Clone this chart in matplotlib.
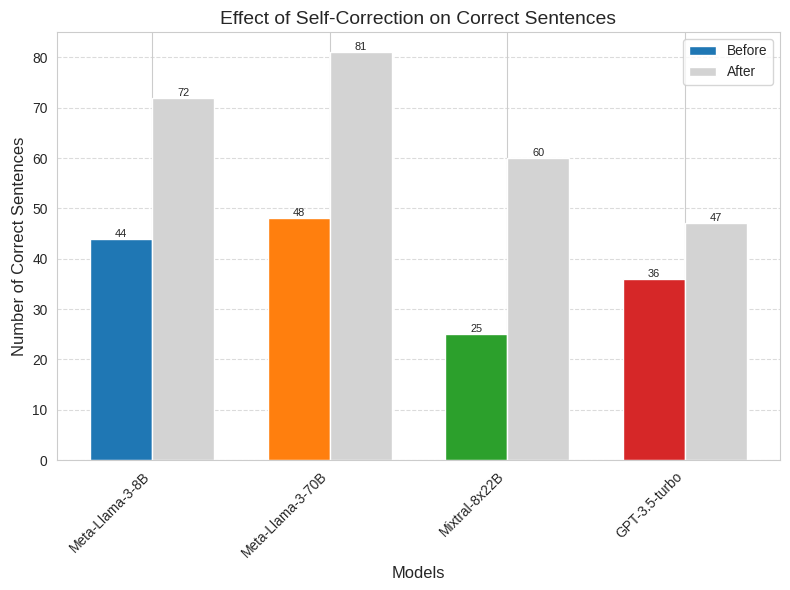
import matplotlib
matplotlib.use("Agg")
import matplotlib.pyplot as plt
import seaborn as sns
import numpy as np

models = ["Meta-Llama-3-8B", "Meta-Llama-3-70B", "Mixtral-8x22B", "GPT-3.5-turbo"]
before = [44, 48, 25, 36]
after = [72, 81, 60, 47]
before_colors = ["#1f77b4", "#ff7f0e", "#2ca02c", "#d62728"]
after_color = "lightgray"

sns.set_style("whitegrid")
plt.rcParams["font.family"] = ["Liberation Sans", "DejaVu Sans"]
fig, ax = plt.subplots(figsize=(8, 590/98.75), dpi=98.75)
x = np.arange(len(models))
w = 0.35
b1 = ax.bar(x - w/2, before, w, label="Before", color=before_colors)
b2 = ax.bar(x + w/2, after, w, label="After", color=after_color)
for bars in (b1, b2):
    for r in bars:
        h = r.get_height()
        ax.text(r.get_x() + r.get_width()/2, h, f"{h:g}", ha="center", va="bottom", fontsize=8)
ax.set_title("Effect of Self-Correction on Correct Sentences", fontsize=14)
ax.set_xlabel("Models", fontsize=12)
ax.set_ylabel("Number of Correct Sentences", fontsize=12)
ax.set_xticks(x)
ax.set_xticklabels(models, rotation=45, ha="right")
ax.grid(axis="y", linestyle="--", alpha=0.7)
ax.legend(loc="upper right")
fig.subplots_adjust(left=57/790, right=780/790, top=1-32/590, bottom=1-460/590)
fig.savefig("out.png", dpi=98.75)
